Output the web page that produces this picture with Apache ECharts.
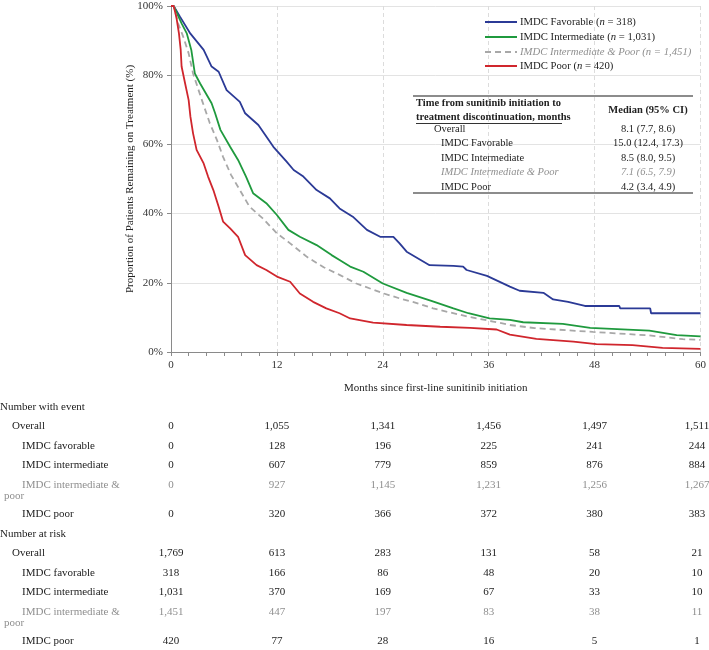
<!DOCTYPE html>
<html>
<head>
<meta charset="utf-8">
<script src="https://cdn.jsdelivr.net/npm/echarts@6/dist/echarts.min.js"></script>
<style>
  html, body { margin: 0; padding: 0; background: #fff; }
  #main { width: 709px; height: 650px; }
</style>
</head>
<body>
<div id="main"></div>
<script>
// 曲线数据 [月, %]
var favorable = [[0,100],[0.3,100],[1.0,97],[2.2,92],[3.7,87.3],[4.6,82.5],[5.4,81],[6.3,75.7],[7.8,72.3],[8.4,69],[9.9,65.6],[11.6,59.3],[13.1,55],[13.9,52.6],[15.0,50.7],[16.5,46.8],[18.0,44.4],[19.1,41.5],[20.6,39.1],[22.2,35.3],[23.7,33.3],[25.2,33.3],[25.9,31.4],[26.7,29],[29.3,25.1],[32,24.9],[33.1,24.7],[33.5,23.7],[35.8,22],[38.4,18.9],[39.5,17.7],[42.2,17.1],[43.3,15.2],[45,14.5],[46.9,13.3],[50.8,13.3],[50.9,12.6],[54.3,12.6],[54.4,11.2],[60,11.2]]
var intermediate = [[0,100],[0.3,100],[1.2,95],[1.8,92],[2.3,87.3],[2.7,80.5],[3.3,77.6],[4.6,71.9],[5.0,69],[5.6,64.2],[6.7,59.3],[7.6,55.5],[8.5,50.7],[9.3,45.9],[10.8,43],[12,39.6],[13.3,35.3],[14.6,33.3],[16.5,30.9],[18.2,28],[19.1,26.6],[20.3,24.7],[21.8,23.2],[24,19.8],[26.7,17.1],[29.5,14.8],[32,12.6],[33.7,11.2],[36.1,9.7],[38.4,9.3],[39.9,8.6],[44.4,8.1],[47.5,7.0],[54.2,6.2],[57.3,4.9],[60,4.5]]
var intPoor = [[0,100],[0.3,100],[0.8,95],[1.4,91],[2.0,86.3],[2.5,80.5],[3.5,72.8],[4.4,66.1],[5.2,61.3],[5.9,56.4],[6.8,51.2],[7.8,46.8],[8.9,42],[10.4,38.6],[12,34.3],[13.5,31.4],[15.4,27.5],[17.3,24.5],[19.1,22.3],[21,19.8],[24,17],[25.9,15.5],[27.4,14.5],[29.7,12.6],[30.5,12.1],[33.7,10.2],[36.5,8.8],[38.4,7.8],[41.2,6.9],[47.8,5.8],[54.2,4.8],[58,3.7],[60,3.5]]
var poor = [[0,100],[0.3,100],[0.6,96.9],[0.9,92.1],[1.1,87.3],[1.2,82.5],[1.6,77.6],[2.0,72.8],[2.2,68],[2.5,63.2],[2.9,58.4],[3.7,54.5],[4.2,50.7],[4.8,46.8],[5.4,42],[5.9,37.7],[6.7,35.7],[7.6,33.3],[8.4,28],[9.7,25.1],[10.8,23.7],[12,21.8],[13.5,20.3],[14.6,16.9],[16.1,14.5],[17.6,12.6],[19.1,11.2],[20.3,9.7],[22.9,8.5],[26.7,7.8],[30.5,7.3],[33.9,7.0],[36.9,6.5],[38.4,5.0],[41.4,3.8],[45.6,3.0],[48.2,2.3],[52.3,2.0],[55.7,1.2],[55.8,0.9],[60,0.9]]

// 图例
var seriesNames = ['IMDC Favorable', 'IMDC Intermediate', 'IMDC Intermediate & Poor', 'IMDC Poor']
var seriesN = ['318', '1,031', '1,451', '420']

// 中位数小表
var medianLabels = ['Overall', 'IMDC Favorable', 'IMDC Intermediate', 'IMDC Intermediate & Poor', 'IMDC Poor']
var medianValues = ['8.1 (7.7, 8.6)', '15.0 (12.4, 17.3)', '8.5 (8.0, 9.5)', '7.1 (6.5, 7.9)', '4.2 (3.4, 4.9)']

// 下方表格
var tickMonths = [0, 12, 24, 36, 48, 60]
var eventOverall = [0, 1055, 1341, 1456, 1497, 1511]
var eventFav = [0, 128, 196, 225, 241, 244]
var eventInt = [0, 607, 779, 859, 876, 884]
var eventIntPoor = [0, 927, 1145, 1231, 1256, 1267]
var eventPoor = [0, 320, 366, 372, 380, 383]
var riskOverall = [1769, 613, 283, 131, 58, 21]
var riskFav = [318, 166, 86, 48, 20, 10]
var riskInt = [1031, 370, 169, 67, 33, 10]
var riskIntPoor = [1451, 447, 197, 83, 38, 11]
var riskPoor = [420, 77, 28, 16, 5, 1]

var serif = '"Liberation Serif", "DejaVu Serif", serif'
var colors = ['#2b3a96', '#1f9a3e', '#a8a8a8', '#d0262d']
var dashes = [null, null, [6, 4], null]
var grayText = '#8f8f8f'
var ink = '#222'

var chart = echarts.init(document.getElementById('main'))

var option = {
  backgroundColor: '#fff',
  animation: false,
  grid: { left: 171, right: 8, top: 6, bottom: 298 },
  xAxis: {
    type: 'value', min: 0, max: 60, interval: 12,
    name: 'Months since first-line sunitinib initiation',
    nameLocation: 'middle', nameGap: 31,
    nameTextStyle: { fontFamily: serif, fontSize: 11, color: ink },
    axisLine: { lineStyle: { color: '#8a8a8a', width: 1 } },
    axisTick: { length: 4, lineStyle: { color: '#8a8a8a' } },
    minorTick: { show: true, splitNumber: 6, length: 4, lineStyle: { color: '#8a8a8a' } },
    axisLabel: { margin: 8, fontFamily: serif, fontSize: 11, color: '#333' },
    splitLine: { show: true, lineStyle: { color: '#dcdcdc', type: [4, 3] } }
  },
  yAxis: {
    type: 'value', min: 0, max: 100, interval: 20,
    axisLine: { show: true, lineStyle: { color: '#8a8a8a', width: 1 } },
    axisTick: { show: true, length: 4, lineStyle: { color: '#8a8a8a' } },
    axisLabel: { margin: 8, fontFamily: serif, fontSize: 11, color: '#333', formatter: '{value}%' },
    splitLine: { lineStyle: { color: '#e3e3e3' } }
  },
  series: [favorable, intermediate, intPoor, poor].map(function (d, i) {
    return {
      name: seriesNames[i], type: 'line', data: d, symbol: 'none',
      lineStyle: { width: 1.8, color: colors[i], type: dashes[i] || 'solid' }
    }
  })
}
chart.setOption(option)

function txt(text, x, y, opt) {
  opt = opt || {}
  return {
    type: 'text', silent: true,
    x: opt.rotate ? x : 0, y: opt.rotate ? y : 0,
    rotation: opt.rotate || 0,
    style: {
      text: text, x: opt.rotate ? 0 : x, y: opt.rotate ? 0 : y,
      fill: opt.fill || ink,
      fontFamily: serif,
      fontSize: opt.size || 11,
      fontWeight: opt.bold ? 'bold' : 'normal',
      fontStyle: opt.italic ? 'italic' : 'normal',
      align: opt.align || 'left', verticalAlign: 'middle',
      textAlign: opt.align || 'left', textVerticalAlign: 'middle',
      rich: opt.rich
    }
  }
}
function hline(x1, x2, y, w, c, dash) {
  return { type: 'line', silent: true, shape: { x1: x1, y1: y, x2: x2, y2: y }, style: { stroke: c || '#555', lineWidth: w || 1, lineDash: dash || null } }
}

var g = []
// y 轴标题
g.push(txt('Proportion of Patients Remaining on Treatment (%)', 130, 179, { rotate: Math.PI / 2, align: 'center' }))

// 手画图例
var legFont = 10.7
var legRich = {
  a: { fontFamily: serif, fontSize: legFont, fill: ink, color: ink },
  i: { fontFamily: serif, fontSize: legFont, fill: ink, color: ink, fontStyle: 'italic' },
  g: { fontFamily: serif, fontSize: legFont, fill: grayText, color: grayText, fontStyle: 'italic' }
}
var legY = [22, 37, 52, 66]
seriesNames.forEach(function (name, i) {
  g.push(hline(485, 517, legY[i], 2, colors[i], dashes[i]))
  var s = i === 2 ? '{g|' + name + ' (n = ' + seriesN[i] + ')}' : '{a|' + name + ' (}{i|n}{a| = ' + seriesN[i] + ')}'
  g.push(txt(s, 520, legY[i], { size: legFont, rich: legRich }))
})

// 中位数表
var tf = 10.5
g.push(hline(413, 693, 96, 1.6, '#666'))
g.push(txt('Time from sunitinib initiation to', 416, 103, { bold: true, size: tf }))
g.push(txt('treatment discontinuation, months', 416, 117, { bold: true, size: tf }))
g.push(hline(416, 562, 123.5, 1, '#333'))
g.push(txt('Median (95% CI)', 648, 110, { bold: true, align: 'center', size: tf }))
var medY = [129, 143.5, 158, 172.5, 187]
medianLabels.forEach(function (lab, i) {
  var gray = i === 3
  g.push(txt(lab, i === 0 ? 434 : 441, medY[i], { italic: gray, fill: gray ? grayText : ink, size: tf }))
  g.push(txt(medianValues[i], 648, medY[i], { italic: gray, fill: gray ? grayText : ink, align: 'center', size: tf }))
})
g.push(hline(413, 693, 193, 1.6, '#666'))

// 下方表格
var colX = tickMonths.map(function (m) {
  return Math.min(chart.convertToPixel({ xAxisIndex: 0 }, m), 697)
})
function fmt(v) { return v.toLocaleString('en-US') }
var rowLabels = ['Overall', 'IMDC favorable', 'IMDC intermediate', 'IMDC intermediate &', 'IMDC poor']
function block(title, y0, rows) {
  g.push(txt(title, 0, y0))
  var ys = [y0 + 19.5, y0 + 39, y0 + 58.5, y0 + 78, y0 + 107]
  rows.forEach(function (vals, r) {
    var gray = r === 3
    var fill = gray ? grayText : ink
    g.push(txt(rowLabels[r], r === 0 ? 12 : 22, ys[r], { fill: fill }))
    if (gray) g.push(txt('poor', 4, ys[r] + 11, { fill: fill }))
    vals.forEach(function (v, c) {
      g.push(txt(fmt(v), colX[c], ys[r], { fill: fill, align: 'center' }))
    })
  })
}
block('Number with event', 407, [eventOverall, eventFav, eventInt, eventIntPoor, eventPoor])
block('Number at risk', 534, [riskOverall, riskFav, riskInt, riskIntPoor, riskPoor])

chart.setOption({ graphic: g })
</script>
</body>
</html>
